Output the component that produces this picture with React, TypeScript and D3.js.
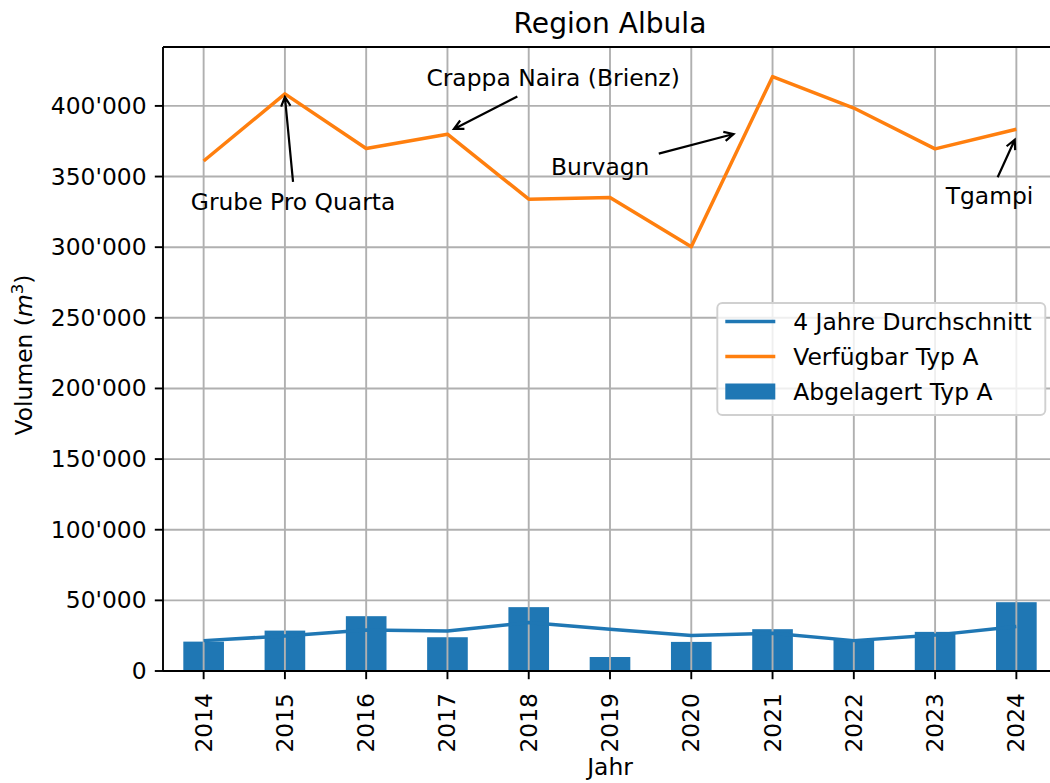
import React from 'react';
import * as d3 from 'd3';

// values
const years = ['2014', '2015', '2016', '2017', '2018', '2019', '2020', '2021', '2022', '2023', '2024'];
const abgelagert = [20800, 28600, 38800, 23900, 45200, 9900, 20600, 29600, 22500, 27700, 48700];
const durchschnitt = [21500, 24800, 29100, 28300, 34300, 29500, 25200, 26700, 21500, 25400, 31500];
const verfuegbar = [361000, 408500, 369800, 380000, 334000, 335200, 300300, 420700, 398500, 369600, 383500];
const yTicks = [0, 50000, 100000, 150000, 200000, 250000, 300000, 350000, 400000];

// annotation text positions and arrows, in data units (year index, m3)
const annotations = [
  { label: 'Grube Pro Quarta', tx: 1.1, ty: 332000, fx: 1.1, fy: 346300, hx: 1.0, hy: 406400 },
  { label: 'Crappa Naira (Brienz)', tx: 4.3, ty: 419900, fx: 3.86, fy: 406600, hx: 3.08, hy: 383700 },
  { label: 'Burvagn', tx: 4.88, ty: 356700, fx: 5.6, fy: 366200, hx: 6.52, hy: 380100 },
  { label: 'Tgampi', tx: 9.67, ty: 336200, fx: 9.77, fy: 349500, hx: 9.98, hy: 376100 },
];

const W = 1050, H = 783;
const left = 163, right = 1057, top = 47, bottom = 671;
const fs = 23.4;
const blue = '#1f77b4', orange = '#ff7f0e', grid = '#b0b0b0';

const fmt = d3.formatLocale({ decimal: '.', thousands: "'", grouping: [3], currency: ['', ''] }).format(',');

function arrowPath(x1: number, y1: number, x2: number, y2: number) {
  const ang = Math.atan2(y2 - y1, x2 - x1);
  const hl = 0.4 * fs, hw = 0.2 * fs;
  const bx = x2 - hl * Math.cos(ang), by = y2 - hl * Math.sin(ang);
  const px = -Math.sin(ang) * hw, py = Math.cos(ang) * hw;
  return `M${x1},${y1}L${x2},${y2}M${bx + px},${by + py}L${x2},${y2}L${bx - px},${by - py}`;
}

export default function App() {
  const xBand = d3.scaleBand<string>().domain(years).range([left, right]).paddingInner(0.5).paddingOuter(0.25);
  const x = d3.scaleLinear().domain([-0.5, years.length - 0.5]).range([left, right]);
  const y = d3.scaleLinear().domain([0, 441700]).range([bottom, top]);

  const line = d3.line<number>().x((_, i) => x(i)).y(d => y(d));

  // legend geometry
  const legRight = right - 0.5 * fs;
  const legW = 328, legH = 112;
  const legLeft = legRight - legW;
  const legTop = (top + bottom) / 2 - legH / 2;
  const rowY = (i: number) => legTop + 18.5 + i * 35;
  const hx0 = legLeft + 8;
  const hLen = 50;
  const tx0 = hx0 + hLen + 18;

  return (
    <svg width={W} height={H} style={{ position: 'absolute', left: 0, top: 0, background: '#fff' }}
      fontFamily="DejaVu Sans, sans-serif">
      <rect x={0} y={0} width={W} height={H} fill="#fff" />
      {/* bars */}
      {abgelagert.map((v, i) => (
        <rect key={years[i]} x={xBand(years[i])} y={y(v)} width={xBand.bandwidth()} height={y(0) - y(v)} fill={blue} />
      ))}
      {/* grid */}
      {years.map((yr, i) => (
        <line key={'gx' + yr} x1={x(i)} x2={x(i)} y1={top} y2={bottom} stroke={grid} strokeWidth={1.9} />
      ))}
      {yTicks.map(t => (
        <line key={'gy' + t} x1={left} x2={right} y1={y(t)} y2={y(t)} stroke={grid} strokeWidth={1.9} />
      ))}
      {/* lines */}
      <path d={line(durchschnitt) || ''} fill="none" stroke={blue} strokeWidth={3.5} strokeLinejoin="round" />
      <path d={line(verfuegbar) || ''} fill="none" stroke={orange} strokeWidth={3.5} strokeLinejoin="round" />
      {/* spines */}
      <line x1={left} x2={left} y1={top} y2={bottom} stroke="#000" strokeWidth={1.9} />
      <line x1={left} x2={right} y1={top} y2={top} stroke="#000" strokeWidth={1.9} />
      <line x1={left} x2={right} y1={bottom} y2={bottom} stroke="#000" strokeWidth={1.9} />
      {/* y ticks */}
      {yTicks.map(t => (
        <g key={'yt' + t}>
          <line x1={left - 8.2} x2={left} y1={y(t)} y2={y(t)} stroke="#000" strokeWidth={1.9} />
          <text x={left - 16.4} y={y(t)} textAnchor="end" dominantBaseline="central" fontSize={fs}>{fmt(t)}</text>
        </g>
      ))}
      {/* x ticks */}
      {years.map((yr, i) => (
        <g key={'xt' + yr}>
          <line x1={x(i)} x2={x(i)} y1={bottom} y2={bottom + 8.2} stroke="#000" strokeWidth={1.9} />
          <text transform={`translate(${x(i)},${bottom + 22}) rotate(-90)`} textAnchor="end" dominantBaseline="central" fontSize={fs}>{yr}</text>
        </g>
      ))}
      {/* annotations */}
      {annotations.map(a => (
        <g key={a.label}>
          <text x={x(a.tx)} y={y(a.ty)} textAnchor="middle" dominantBaseline="central" fontSize={fs}>{a.label}</text>
          <path d={arrowPath(x(a.fx), y(a.fy), x(a.hx), y(a.hy))} fill="none" stroke="#000" strokeWidth={2.2} />
        </g>
      ))}
      {/* legend */}
      <rect x={legLeft} y={legTop} width={legW} height={legH} rx={5} fill="#fff" fillOpacity={0.8} stroke="#d0d0d0" strokeWidth={1.9} />
      <line x1={hx0} x2={hx0 + hLen} y1={rowY(0)} y2={rowY(0)} stroke={blue} strokeWidth={3.5} />
      <text x={tx0} y={rowY(0)} dominantBaseline="central" fontSize={fs}>4 Jahre Durchschnitt</text>
      <line x1={hx0} x2={hx0 + hLen} y1={rowY(1)} y2={rowY(1)} stroke={orange} strokeWidth={3.5} />
      <text x={tx0} y={rowY(1)} dominantBaseline="central" fontSize={fs}>Verfügbar Typ A</text>
      <rect x={hx0} y={rowY(2) - 8} width={hLen} height={16} fill={blue} />
      <text x={tx0} y={rowY(2)} dominantBaseline="central" fontSize={fs}>Abgelagert Typ A</text>
      {/* title and axis labels */}
      <text x={(left + right) / 2} y={33} textAnchor="middle" fontSize={28.1}>Region Albula</text>
      <text x={(left + right) / 2} y={775} textAnchor="middle" fontSize={fs}>Jahr</text>
      <text transform={`translate(32,${(top + bottom) / 2 - 4}) rotate(-90)`} textAnchor="middle" fontSize={fs}>
        Volumen (<tspan fontStyle="italic">m</tspan><tspan dy={-9} fontSize={16.5}>3</tspan><tspan dy={9}>)</tspan>
      </text>
    </svg>
  );
}
